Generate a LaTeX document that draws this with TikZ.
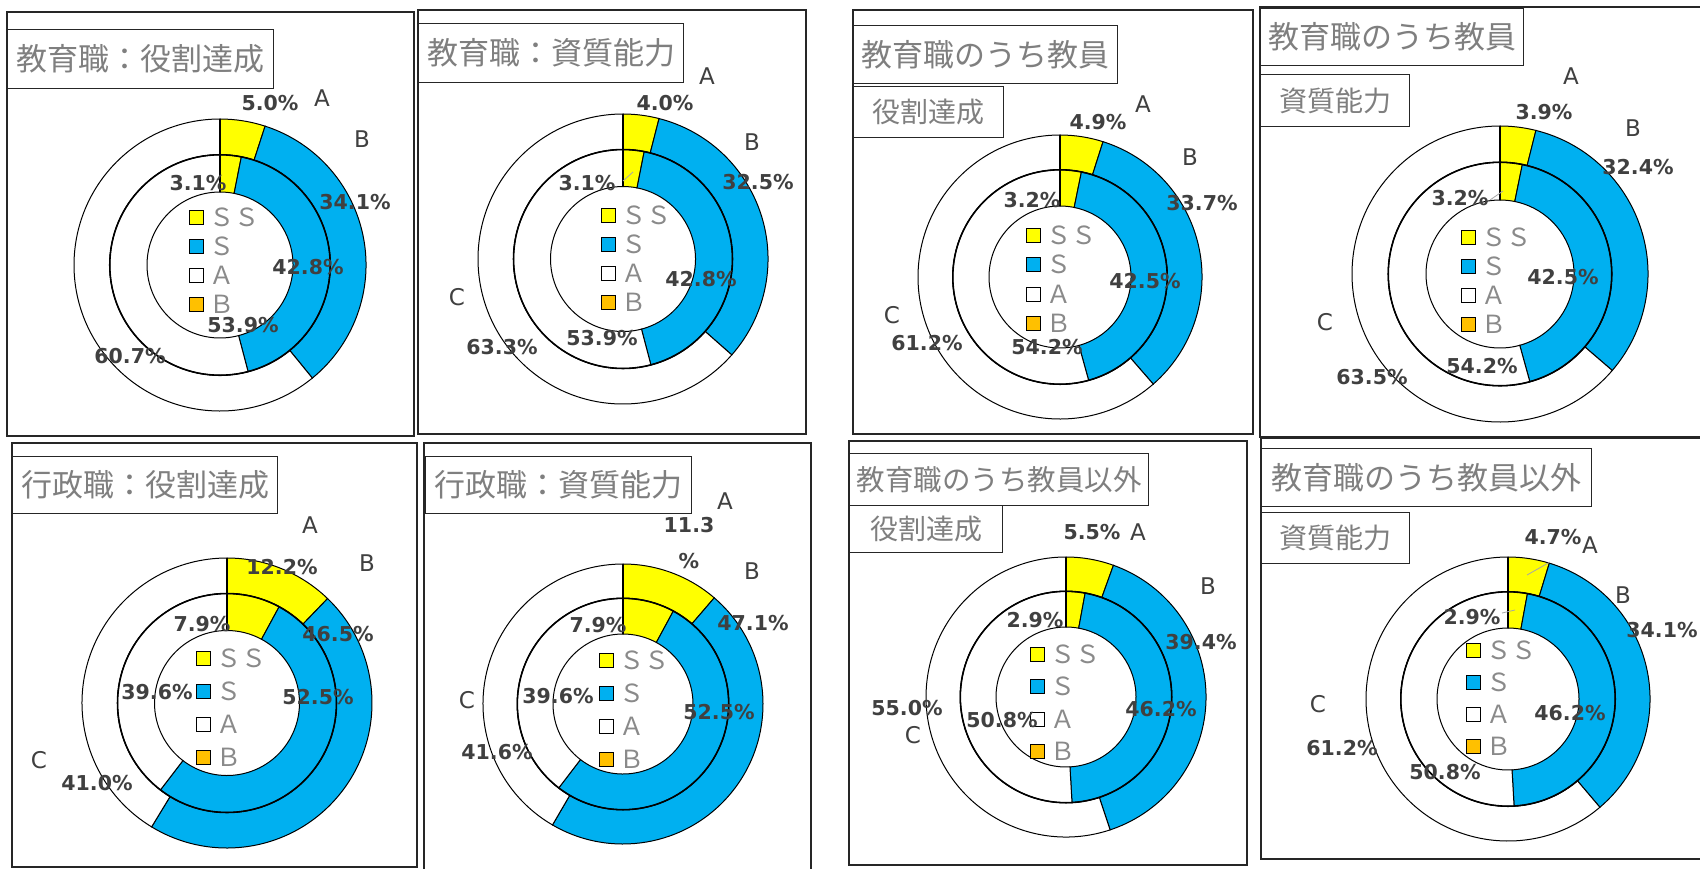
\documentclass[tikz,border=0pt]{standalone}
\usepackage{fontspec}
\setmainfont{DejaVu Sans}
\newfontfamily\jpf{Noto Sans CJK JP}
\definecolor{ylw}{HTML}{FFFF00}
\definecolor{blu}{HTML}{00B0F0}
\definecolor{org}{HTML}{FFC000}
\definecolor{lbl}{HTML}{404040}
\definecolor{lgray}{HTML}{8A8A8A}
\definecolor{tgray}{HTML}{7F7F7F}
\definecolor{frm}{HTML}{262626}
\tikzset{
  pbox/.style={draw=frm, line width=1.4pt},
  tbox/.style={draw=frm, line width=1.4pt, fill=white, inner sep=0pt, anchor=north west, text=tgray, font=\jpf\fontsize{31}{31}\selectfont},
  tboxs/.style={tbox, font=\jpf\fontsize{28}{28}\selectfont},
  pct/.style={font=\bfseries\fontsize{20.5}{20.5}\selectfont, text=lbl, inner sep=0pt},
  ser/.style={font=\fontsize{23}{23}\selectfont, text=lbl, inner sep=0pt},
  lsq/.style={draw=black, line width=0.9pt, minimum size=14pt, inner sep=0pt},
  ltx/.style={font=\jpf\fontsize{25}{25}\selectfont, text=lgray, anchor=west, inner sep=0pt},
  leader/.style={draw=gray!70, line width=0.8pt}
}
\newcommand{\ringseg}[5]{%
  \filldraw[fill=#1, draw=black, line width=1pt] (#2:#5 pt) arc[start angle=#2, end angle=#3, radius=#5 pt] -- (#3:#4 pt) arc[start angle=#3, end angle=#2, radius=#4 pt] -- cycle;}
\newcommand{\donut}[8]{%
  \begin{scope}[shift={(#2,#3)}]
    \pgfmathsetmacro{\dRo}{#4}\pgfmathsetmacro{\dRm}{0.755*#4}\pgfmathsetmacro{\dRi}{0.5*#4}
    \pgfmathsetmacro{\dA}{90-3.6*#5}\pgfmathsetmacro{\dB}{90-3.6*(#5+#6)}
    \pgfmathsetmacro{\dC}{90-3.6*#7}\pgfmathsetmacro{\dD}{90-3.6*(#7+#8)}
    \ringseg{ylw}{90}{\dA}{\dRm}{\dRo}
    \ringseg{blu}{\dA}{\dB}{\dRm}{\dRo}
    \ringseg{white}{\dB}{-270}{\dRm}{\dRo}
    \ringseg{ylw}{90}{\dC}{\dRi}{\dRm}
    \ringseg{blu}{\dC}{\dD}{\dRi}{\dRm}
    \ringseg{white}{\dD}{-270}{\dRi}{\dRm}
    \draw[line width=1.6pt] (0,0) circle[radius=\dRm pt];
    \draw[line width=1.8pt] (90:\dRi pt) -- (90:\dRo pt);
    \coordinate (#1) at (0,0);
  \end{scope}}
\newcommand{\lgd}[4]{%
  \node[lsq, fill=ylw] (#1s1) at (#2,#3) {};
  \node[ltx] (#1t1) at ([xshift=13pt]#1s1.center) {ＳＳ};
  \node[lsq, fill=blu] (#1s2) at (#2,#3+#4) {};
  \node[ltx] (#1t2) at ([xshift=13pt]#1s2.center) {Ｓ};
  \node[lsq, fill=white] (#1s3) at (#2,#3+2*#4) {};
  \node[ltx] (#1t3) at ([xshift=13pt]#1s3.center) {Ａ};
  \node[lsq, fill=org] (#1s4) at (#2,#3+3*#4) {};
  \node[ltx] (#1t4) at ([xshift=13pt]#1s4.center) {Ｂ};}
\begin{document}
\begin{tikzpicture}[x=1pt, y=-1pt]
\useasboundingbox[fill=white] (0,0) rectangle (1700,868);

% ---------- panel frames ----------
\draw[pbox] (7,12) rectangle (414,436);
\draw[pbox] (418,10) rectangle (806,434);
\draw[pbox] (853,10) rectangle (1253,434);
\draw[pbox] (1260,7) rectangle (1720,437);
\draw[pbox] (12,443) rectangle (417,867);
\draw[pbox] (424,443) rectangle (811,880);
\draw[pbox] (849,441) rectangle (1247,865);
\draw[pbox] (1261,438) rectangle (1720,859);

% ---------- titles ----------
\node[tbox, minimum width=266pt, minimum height=59pt] (t1) at (7,29) {教育職：役割達成};
\node[tbox, minimum width=265pt, minimum height=59pt] (t2) at (418,23) {教育職：資質能力};
\node[tbox, minimum width=264pt, minimum height=58pt] (t3) at (853,25) {教育職のうち教員};
\node[tboxs, minimum width=150pt, minimum height=51pt] (t3b) at (853,86) {役割達成};
\node[tbox, minimum width=263pt, minimum height=57pt] (t4) at (1260,8) {教育職のうち教員};
\node[tboxs, minimum width=149pt, minimum height=52pt] (t4b) at (1260,74) {資質能力};
\node[tbox, minimum width=265pt, minimum height=57pt] (t5) at (12,456) {行政職：役割達成};
\node[tbox, minimum width=266pt, minimum height=57pt] (t6) at (425,456) {行政職：資質能力};
\node[tbox, font=\jpf\fontsize{28.5}{28.5}\selectfont, minimum width=299pt, minimum height=52pt] (t7) at (849,453) {教育職のうち教員以外};
\node[tboxs, minimum width=153pt, minimum height=47pt] (t7b) at (849,505) {役割達成};
\node[tbox, minimum width=330pt, minimum height=58pt] (t8) at (1261,448) {教育職のうち教員以外};
\node[tboxs, minimum width=148pt, minimum height=51pt] (t8b) at (1261,512) {資質能力};

% ---------- donuts ----------
\donut{d1}{220}{265}{146}{5.0}{34.1}{3.1}{42.8}
\donut{d2}{623}{259}{145}{4.0}{32.5}{3.1}{42.8}
\donut{d3}{1060}{277}{142}{4.9}{33.7}{3.2}{42.5}
\donut{d4}{1500}{274}{148}{3.9}{32.4}{3.2}{42.5}
\donut{d5}{227}{703}{145}{12.2}{46.5}{7.9}{52.5}
\donut{d6}{623}{704}{140}{11.3}{47.1}{7.9}{52.5}
\donut{d7}{1066}{697}{140}{5.5}{39.4}{2.9}{46.2}
\donut{d8}{1508}{699}{142}{4.7}{34.1}{2.9}{46.2}

% ---------- legends ----------
\lgd{g1}{196}{217}{29}
\lgd{g2}{608}{215}{29}
\lgd{g3}{1033}{235}{29.5}
\lgd{g4}{1468}{237}{29}
\lgd{g5}{203}{658}{33}
\lgd{g6}{606}{660}{33}
\lgd{g7}{1037}{654}{32.5}
\lgd{g8}{1473}{650}{32}

% ---------- panel 1 labels ----------
\node[pct] (p1a) at (270,103) {5.0\%};
\node[ser] (p1b) at (322,98) {A};
\node[ser] (p1c) at (362,139) {B};
\node[pct] (p1d) at (355,202) {34.1\%};
\node[pct] (p1e) at (198,183) {3.1\%};
\node[pct] (p1f) at (308,267) {42.8\%};
\node[pct] (p1g) at (243,325) {53.9\%};
\node[pct] (p1h) at (130,356) {60.7\%};

% ---------- panel 2 labels ----------
\node[ser] (p2a) at (707,76) {A};
\node[pct] (p2b) at (665,103) {4.0\%};
\node[ser] (p2c) at (752,142) {B};
\node[pct] (p2d) at (758,182) {32.5\%};
\node[pct] (p2e) at (587,183) {3.1\%};
\node[pct] (p2f) at (701,279) {42.8\%};
\node[pct] (p2g) at (602,338) {53.9\%};
\node[ser] (p2h) at (457,297) {C};
\node[pct] (p2i) at (502,347) {63.3\%};
\coordinate (p2q1) at (623,181);
\coordinate (p2q2) at (633,172);
\draw[leader] (p2q1) -- (p2q2);

% ---------- panel 3 labels ----------
\node[ser] (p3a) at (1143,104) {A};
\node[pct] (p3b) at (1098,122) {4.9\%};
\node[ser] (p3c) at (1190,157) {B};
\node[pct] (p3d) at (1202,203) {33.7\%};
\node[pct] (p3e) at (1032,200) {3.2\%};
\node[pct] (p3f) at (1145,281) {42.5\%};
\node[pct] (p3g) at (1047,347) {54.2\%};
\node[ser] (p3h) at (892,315) {C};
\node[pct] (p3i) at (927,343) {61.2\%};

% ---------- panel 4 labels ----------
\node[ser] (p4a) at (1571,76) {A};
\node[pct] (p4b) at (1544,112) {3.9\%};
\node[ser] (p4c) at (1633,128) {B};
\node[pct] (p4d) at (1638,167) {32.4\%};
\node[pct] (p4e) at (1460,198) {3.2\%};
\node[pct] (p4f) at (1563,277) {42.5\%};
\node[pct] (p4g) at (1482,366) {54.2\%};
\node[ser] (p4h) at (1325,322) {C};
\node[pct] (p4i) at (1372,377) {63.5\%};
\coordinate (p4q1) at (1490,200);
\coordinate (p4q2) at (1503,191);
\draw[leader] (p4q1) -- (p4q2);

% ---------- panel 5 labels ----------
\node[ser] (p5a) at (310,525) {A};
\node[pct] (p5b) at (282,567) {12.2\%};
\node[ser] (p5c) at (367,563) {B};
\node[pct] (p5d) at (338,634) {46.5\%};
\node[pct] (p5e) at (202,624) {7.9\%};
\node[pct] (p5f) at (157,692) {39.6\%};
\node[pct] (p5g) at (318,697) {52.5\%};
\node[ser] (p5h) at (39,760) {C};
\node[pct] (p5i) at (97,783) {41.0\%};

% ---------- panel 6 labels ----------
\node[ser] (p6a) at (725,501) {A};
\node[pct] (p6b) at (689,525) {11.3};
\node[pct] (p6b2) at (689,561) {\%};
\node[ser] (p6c) at (752,571) {B};
\node[pct] (p6d) at (753,623) {47.1\%};
\node[pct] (p6e) at (598,625) {7.9\%};
\node[pct] (p6f) at (558,696) {39.6\%};
\node[pct] (p6g) at (719,712) {52.5\%};
\node[ser] (p6h) at (467,700) {C};
\node[pct] (p6i) at (497,752) {41.6\%};

% ---------- panel 7 labels ----------
\node[pct] (p7b) at (1092,532) {5.5\%};
\node[ser] (p7a) at (1138,532) {A};
\node[ser] (p7c) at (1208,586) {B};
\node[pct] (p7d) at (1201,642) {39.4\%};
\node[pct] (p7e) at (1035,620) {2.9\%};
\node[pct] (p7f) at (1161,709) {46.2\%};
\node[pct] (p7i) at (907,708) {55.0\%};
\node[ser] (p7h) at (913,735) {C};
\node[pct] (p7g) at (1002,720) {50.8\%};

% ---------- panel 8 labels ----------
\node[pct] (p8b) at (1553,537) {4.7\%};
\node[ser] (p8a) at (1590,545) {A};
\node[ser] (p8c) at (1623,595) {B};
\node[pct] (p8d) at (1662,630) {34.1\%};
\node[pct] (p8e) at (1472,617) {2.9\%};
\node[pct] (p8f) at (1570,713) {46.2\%};
\node[ser] (p8h) at (1318,704) {C};
\node[pct] (p8i) at (1342,748) {61.2\%};
\node[pct] (p8g) at (1445,772) {50.8\%};
\coordinate (p8q1) at (1550,562);
\coordinate (p8q2) at (1527,575);
\draw[leader] (p8q1) -- (p8q2);
\coordinate (p8q3) at (1502,613);
\coordinate (p8q4) at (1515,610);
\draw[leader] (p8q3) -- (p8q4);
\end{tikzpicture}
\end{document}
